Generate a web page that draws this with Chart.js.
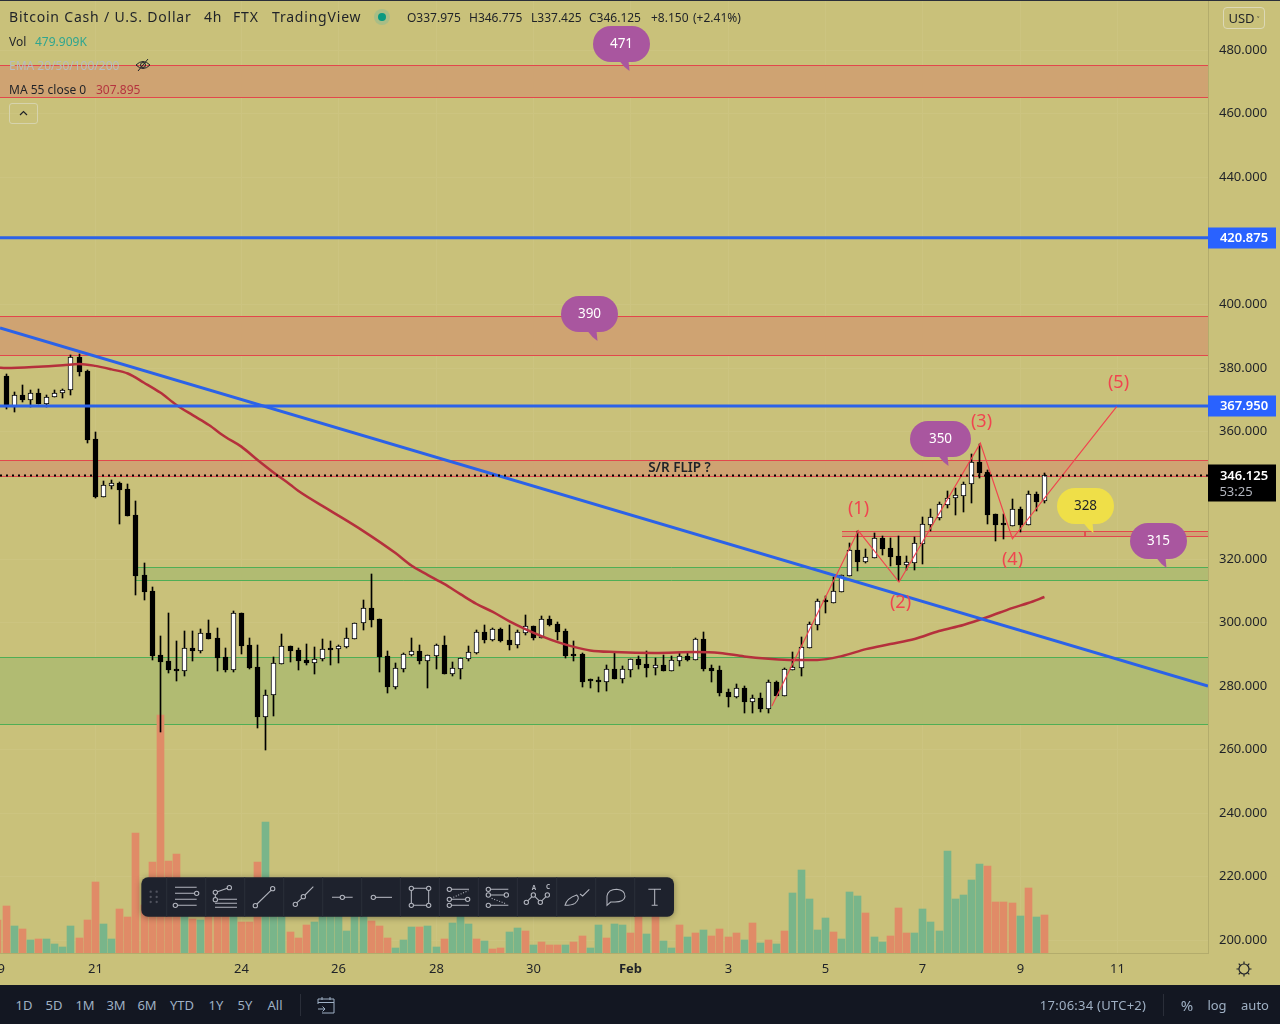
<!DOCTYPE html>
<html>
<head>
<meta charset="utf-8">
<title>BCHUSD 4h</title>
<script src="https://cdn.jsdelivr.net/npm/chart.js@4"></script>
<style>
    html, body { margin: 0; padding: 0; background: #c9c17a; }
    body { width: 1280px; height: 1024px; position: relative; overflow: hidden; font-family: "Noto Sans", sans-serif; }
    canvas { position: absolute; left: 0; top: 0; }
    .t { position: absolute; white-space: nowrap; font-size: 13px; line-height: 16px; color: #1f2228; }
    .h { font-size: 14px; letter-spacing: 0.8px; top: 9px; }
    .b { position: absolute; white-space: nowrap; font-size: 13px; line-height: 16px; color: #9fb0c4; top: 997px; transform: translateX(-50%); }
    #topline { position: absolute; left: 0; top: 0; width: 1280px; height: 1px; background: #2a2e39; }
    #bottombar { position: absolute; left: 0; top: 985px; width: 1280px; height: 39px; background: #131722; }
    #collapse { position: absolute; left: 9px; top: 103px; width: 27px; height: 19px; border: 1px solid #d6d3ad; border-radius: 3px; }
    #usd { position: absolute; left: 1223px; top: 7px; width: 40px; height: 20px; border: 1px solid #dcd8b6; border-radius: 4px; font-size: 13px; line-height: 20px; text-align: center; color: #1f2228; }
    svg { position: absolute; overflow: visible; }
</style>
</head>
<body>
<canvas id="chart" width="1280" height="985"></canvas>
<div id="topline"></div>

<span class="t h" style="left:9px">Bitcoin Cash / U.S. Dollar</span>
<span class="t h" style="left:204px">4h</span>
<span class="t h" style="left:233px">FTX</span>
<span class="t h" style="left:272px">TradingView</span>
<svg style="left:374px;top:9px" width="16" height="16"><circle cx="8" cy="8" r="8" fill="#a9bd86"/><circle cx="8" cy="8" r="4" fill="#089981"/></svg>
<span class="t" style="left:407px;top:10px;font-size:12px">O337.975</span>
<span class="t" style="left:469px;top:10px;font-size:12px">H346.775</span>
<span class="t" style="left:531px;top:10px;font-size:12px">L337.425</span>
<span class="t" style="left:589px;top:10px;font-size:12px">C346.125</span>
<span class="t" style="left:651px;top:10px;font-size:12px">+8.150</span>
<span class="t" style="left:693px;top:10px;font-size:12px">(+2.41%)</span>

<span class="t" style="left:9px;top:34px;font-size:12px">Vol</span>
<span class="t" style="left:35px;top:34px;font-size:12px;color:#2fa58f">479.909K</span>
<span class="t" style="left:9px;top:58px;font-size:12px;color:#b7bcc0">EMA 20/50/100/200</span>
<svg style="left:135px;top:58px" width="16" height="14" fill="none" stroke="#1f2228" stroke-width="1">
    <path d="M1 7 Q8 0 15 7 Q8 14 1 7 Z"/><circle cx="8" cy="7" r="2.5"/><path d="M3 13 L13 1"/>
</svg>
<span class="t" style="left:9px;top:82px;font-size:12px">MA 55 close 0</span>
<span class="t" style="left:96px;top:82px;font-size:12px;color:#b5343f">307.895</span>
<div id="collapse"><svg style="left:9px;top:6px" width="9" height="6" fill="none" stroke="#1f2228" stroke-width="1.2"><path d="M1 5 L4.5 1.5 L8 5"/></svg></div>
<div id="usd">USD<span style="font-size:9px"> ˅</span></div>

<svg style="left:1236px;top:961px" width="16" height="16" fill="none" stroke="#1f2228" stroke-width="1.2">
    <circle cx="8" cy="8" r="5"/><path d="M8 0.5V3M8 13V15.5M0.5 8H3M13 8H15.5M2.7 2.7L4.4 4.4M11.6 11.6L13.3 13.3M2.7 13.3L4.4 11.6M11.6 4.4L13.3 2.7"/>
</svg>

<div id="bottombar"></div>
<span class="b" style="left:24px">1D</span>
<span class="b" style="left:54px">5D</span>
<span class="b" style="left:85px">1M</span>
<span class="b" style="left:116px">3M</span>
<span class="b" style="left:147px">6M</span>
<span class="b" style="left:182px">YTD</span>
<span class="b" style="left:216px">1Y</span>
<span class="b" style="left:245px">5Y</span>
<span class="b" style="left:275px">All</span>
<span class="b" style="left:1093px;letter-spacing:0.25px">17:06:34 (UTC+2)</span>
<span class="b" style="left:1187px;font-size:15px">%</span>
<span class="b" style="left:1217px">log</span>
<span class="b" style="left:1255px">auto</span>
<svg style="left:300px;top:994px" width="1" height="22"><path d="M0.5 0V22" stroke="#2a2e39"/></svg>
<svg style="left:1163px;top:994px" width="1" height="22"><path d="M0.5 0V22" stroke="#2a2e39"/></svg>
<svg style="left:317px;top:996px" width="18" height="18" fill="none" stroke="#9fb0c4" stroke-width="1">
    <path d="M1 8V3H17V17H5M1 6.5H17M5 1V4M13 1V4M1 13H8M5.5 10.5L8 13L5.5 15.5"/>
</svg>

<!-- floating drawing toolbar, coordinates are 3x page pixels from (0,820) -->
<svg style="left:0;top:820px;filter:drop-shadow(0 1px 3px rgba(0,0,0,.35))" width="700" height="110" viewBox="0 0 2100 330" fill="none" stroke="#b2b5be" stroke-width="3.2">
    <rect x="424" y="172" width="1598" height="118" rx="20" fill="#1e222d" stroke="none"/>
    <g stroke="#2a2e39">
        <path d="M500 172V290M617 172V290M734 172V290M851 172V290M968 172V290M1085 172V290M1201 172V290M1318 172V290M1435 172V290M1552 172V290M1670 172V290M1787 172V290M1904 172V290"/>
    </g>
    <g fill="#50535e" stroke="none">
        <circle cx="452" cy="215" r="3.5"/><circle cx="470" cy="215" r="3.5"/><circle cx="452" cy="231" r="3.5"/><circle cx="470" cy="231" r="3.5"/><circle cx="452" cy="246" r="3.5"/><circle cx="470" cy="246" r="3.5"/>
    </g>
    <path d="M525 202H590M525 220H582M525 238H590M533 256H590"/><circle cx="590" cy="220" r="6.5"/><circle cx="526" cy="256" r="6.5"/>
    <path d="M652 215L682 205M646 223V233M655 238H711M645 250H711M645 262H711"/><circle cx="646" cy="217" r="6.5"/><circle cx="688" cy="203" r="6.5"/><circle cx="646" cy="239" r="6.5"/>
    <path d="M771 252L813 211"/><circle cx="766" cy="257" r="6.5"/><circle cx="818" cy="206" r="6.5"/>
    <path d="M891 248L905 235M915 225L940 200"/><circle cx="886" cy="253" r="6.5"/><circle cx="910" cy="230" r="6.5"/>
    <path d="M996 232H1021M1033 232H1058"/><circle cx="1027" cy="232" r="6.5"/>
    <path d="M1126 232H1176"/><circle cx="1120" cy="232" r="6.5"/>
    <g transform="translate(1200,150)">
        <path d="M40 55H80M40 106H80M34 61V100M86 61V100"/><circle cx="34" cy="55" r="6.5"/><circle cx="86" cy="55" r="6.5"/><circle cx="34" cy="106" r="6.5"/><circle cx="86" cy="106" r="6.5"/>
        <path d="M154 58H207M154 88H197M154 106H207"/><path d="M160 82L205 62" stroke-dasharray="3 5"/><circle cx="148" cy="58" r="6.5"/><circle cx="148" cy="88" r="6.5"/><circle cx="203" cy="88" r="6.5"/><circle cx="148" cy="106" r="6.5"/>
        <path d="M271 58H325M271 75H313M271 106H325"/><path d="M275 85L320 102" stroke-dasharray="3 5"/><circle cx="265" cy="58" r="6.5"/><circle cx="265" cy="75" r="6.5"/><circle cx="319" cy="75" r="6.5"/><circle cx="265" cy="106" r="6.5"/>
        <path d="M384 92L396 80M405 80L417 92M426 92L438 80"/><circle cx="379" cy="97" r="6.5"/><circle cx="400" cy="75" r="6.5"/><circle cx="421" cy="97" r="6.5"/><circle cx="442" cy="75" r="6.5"/>
        <text x="402" y="60" font-size="19" font-weight="700" fill="#b2b5be" stroke="none" text-anchor="middle">A</text>
        <text x="444" y="58" font-size="19" font-weight="700" fill="#b2b5be" stroke="none" text-anchor="middle">C</text>
        <path d="M495 106Q500 85 530 75Q542 85 525 100Q515 106 495 106ZM540 72L548 78L568 58"/>
        <path d="M621 106V78Q625 58 650 58Q675 60 675 80Q672 96 645 96H632Z"/>
        <path d="M745 58H783M764 58V106M755 106H773"/>
    </g>
</svg>

<script>
// 4h candles, Jan 19 to Feb 9
const opens = [
    377.4,367.8,371.4,370.0,372.1,368.7,370.7,372.0,372.9,383.3,
    379.0,357.6,339.4,342.9,343.6,341.9,333.7,314.8,309.8,289.6,
    287.7,285.2,284.6,291.8,290.9,296.5,295.0,289.0,284.9,302.8,
    292.8,285.9,270.1,277.0,286.9,292.5,291.2,288.0,287.2,288.3,
    291.8,291.6,292.3,294.8,299.6,304.3,301.0,289.3,279.6,285.4,
    289.7,290.9,287.9,289.4,292.8,283.7,285.3,288.5,290.4,296.9,
    294.5,297.8,294.4,292.9,296.7,298.8,295.1,301.0,299.4,297.2,
    290.0,290.0,281.8,281.5,281.2,285.2,282.1,284.9,288.4,286.8,
    285.6,286.5,284.6,287.8,289.3,288.1,294.7,285.6,284.9,278.0,
    276.5,279.3,274.9,276.1,272.7,281.2,276.8,284.9,285.6,291.9,
    299.1,306.7,306.1,309.6,314.6,322.7,318.9,320.3,326.5,323.3,
    320.8,318.0,318.7,324.6,330.6,332.8,336.9,338.9,339.8,343.3,
    350.4,347.2,334.0,330.9,330.2,335.6,330.6,340.3,337.975
]
const highs = [
    378.2,372.3,374.6,372.9,373.2,371.4,372.9,373.3,384.0,384.3,
    379.3,359.7,344.3,344.7,344.0,343.4,338.1,318.6,311.0,295.6,
    302.8,294.0,297.2,297.2,297.8,300.7,298.1,291.8,303.5,302.8,
    295.0,292.8,278.6,289.0,296.2,292.5,291.8,293.1,292.2,294.7,
    294.0,292.8,298.0,299.6,307.0,315.1,301.0,290.9,287.1,290.2,
    295.0,292.8,289.7,293.1,295.6,287.4,288.6,292.4,297.5,299.1,
    298.1,298.1,299.1,297.5,302.2,298.8,301.9,301.9,300.0,297.8,
    293.9,290.3,282.1,282.7,286.5,290.3,286.2,288.4,289.3,290.9,
    288.7,289.7,289.3,290.3,290.6,295.0,296.9,286.5,286.2,279.0,
    280.5,279.9,277.1,277.7,281.8,281.5,285.6,290.6,295.3,300.0,
    307.3,308.2,314.2,314.8,324.8,328.8,323.0,328.0,327.1,326.5,
    327.1,320.8,326.8,333.1,335.6,337.8,341.3,342.2,344.1,352.9,
    356.0,347.9,334.0,334.0,338.8,336.2,341.3,341.0,346.775
]
const lows = [
    366.9,366.2,369.2,367.7,368.6,367.7,370.7,370.5,371.4,377.4,
    356.3,339.0,339.4,341.9,330.9,333.4,308.5,306.9,288.0,265.4,
    284.0,281.4,283.0,287.7,290.3,294.7,284.6,284.3,284.3,290.0,
    285.2,266.7,259.7,270.4,286.9,287.4,284.9,286.5,283.7,287.9,
    286.5,287.1,291.9,294.8,297.5,298.4,284.3,277.7,278.9,284.3,
    289.3,286.8,279.3,285.2,283.7,283.0,282.1,287.8,290.0,293.4,
    294.0,293.7,291.2,291.9,295.9,294.4,295.0,298.8,294.4,288.7,
    287.8,279.6,279.3,278.0,278.3,282.1,280.9,282.7,285.2,282.7,
    283.4,284.6,284.6,286.2,287.8,288.1,284.6,281.2,276.8,273.3,
    276.1,271.4,271.4,271.7,271.4,276.8,276.8,284.9,283.1,291.9,
    297.5,302.9,306.1,309.6,314.6,316.1,318.6,320.3,321.1,317.7,
    313.0,316.4,316.4,318.3,328.7,332.2,335.9,333.7,334.7,337.5,
    345.4,330.9,325.5,326.2,330.2,328.4,330.6,335.0,337.425
]
const closes = [
    367.8,371.3,369.9,372.0,368.6,370.7,372.0,372.9,383.3,378.7,
    357.3,339.3,343.0,343.6,341.5,333.4,314.5,309.4,289.3,287.4,
    284.9,284.6,291.8,290.9,296.5,294.7,288.7,284.9,302.8,292.5,
    285.5,270.1,277.0,287.1,292.5,290.9,287.7,287.2,288.3,291.4,
    291.3,292.4,294.9,299.6,304.3,300.7,289.0,279.6,285.5,289.9,
    290.8,287.8,289.5,292.7,283.7,285.5,288.6,290.5,296.8,294.4,
    297.7,294.0,292.8,296.8,298.8,295.0,300.9,299.1,296.9,289.3,
    289.3,281.2,281.5,281.2,285.2,282.1,285.1,288.4,286.5,285.6,
    286.5,284.6,288.1,289.3,288.1,294.7,285.2,284.6,277.7,276.5,
    279.3,274.9,276.1,272.7,281.2,276.8,285.2,285.9,292.2,299.4,
    306.7,306.2,309.8,314.8,322.7,318.9,320.4,326.5,323.0,320.5,
    318.0,318.8,324.8,330.8,333.1,337.2,339.1,340.0,343.5,350.4,
    346.9,333.7,330.6,330.5,335.6,330.6,340.3,337.8,346.125
]

// volume in thousands, first bar sits one slot left of the first candle
const volumes = [
    416,596,340,302,164,176,176,113,76,340,
    189,416,895,365,176,554,454,1512,605,1147,
    2999,1159,1247,630,428,416,554,605,554,580,
    391,391,1147,1651,630,655,265,189,353,391,
    605,580,630,277,554,504,403,340,189,63,
    164,328,328,340,76,176,378,466,365,176,
    151,50,63,265,315,277,101,139,101,101,
    101,139,214,63,353,189,365,353,252,466,
    239,466,151,63,353,202,252,290,214,302,
    202,252,164,378,126,164,113,277,756,1046,
    680,290,441,265,176,769,718,504,202,139,
    214,567,252,252,554,391,277,1285,680,731,
    920,1121,1096,643,643,630,466,819,454,480
]
const volumeDirs = 'RRGRGRGGGGRRRGGRRRRRRRRGRGRRRGRRRGGGRRRGGGGGGGRRRGGGRGGRGGGRGRRGGRGRRRGRRGGRGGRRGRGGRGRGRRRRGRGRGRGGGGGRGGGRGGRRRGGGGGGGGGRRRRGRGRG'

// MA 55, read at these candle numbers
const maIdx = [-1,0,4,7,9,11,13,15,17,19,21,23,25,27,29,31,33,35,36,40,44,48,50,52,54,56,58,60,62,64,66,68,70,72,75,80,85,88,91,94,97,100,103,106,109,112,115,118,121,124,126,128]
const maValues = [380.1,379.9,380.3,380.8,381.2,380.6,379.5,378.2,375.3,372.2,368.3,365.1,362.0,358.3,355.2,351.0,347.0,343.3,341.3,335.0,328.7,321.7,317.7,314.8,312.0,308.8,305.7,303.2,300.3,297.8,295.6,293.7,292.2,291.1,290.6,290.3,290.6,290.3,289.2,288.5,288.1,288.1,289.3,291.5,293.1,294.7,297.2,299.1,301.6,304.4,306.0,307.895]

// drawn lines
const trendIdx = [-0.75, 148.16]
const trendPrices = [392.5, 279.9]
const levelPrices = [420.875, 367.95]
const lastPrice = 346.125
const waveIdx = [94.4, 105.05, 110.07, 120.1, 124.05, 136.9]
const wavePrices = [273.6, 328.8, 312.6, 356.3, 326.2, 367.8]
const markIdx = [133, 133]
const markPrices = [328.5, 327.0]

// wave labels
const waveLabels = ['(1)', '(2)', '(3)', '(4)', '(5)']
const waveLabelIdx = [105.1, 110.2, 120.2, 124.1, 137.1]
const waveLabelPrices = [335.6, 306.0, 362.9, 319.5, 375.2]

// price zones
const zoneLows = [465.1, 384.0, 346.1, 327.0, 313.1, 268.1]
const zoneHighs = [475.4, 396.3, 351.1, 328.5, 317.2, 288.9]
const zoneStarts = [-0.75, -0.75, -0.75, 103.05, 15.9, -0.75]
const zoneKinds = ['sell', 'sell', 'sell', 'sell', 'buy', 'buy']

// speech bubbles
const bubbleLabels = ['471', '390', '350', '328', '315']
const bubbleIdx = [75.9, 71.9, 115.2, 133, 142]
const bubblePrices = [481.85, 396.9, 357.7, 336.6, 325.5]
const bubbleKinds = ['purple', 'purple', 'purple', 'yellow', 'purple']

// axis ticks
const yTicks = [480, 460, 440, 400, 380, 360, 320, 300, 280, 260, 240, 220, 200]
const xTickIdx = [-1, 11, 29, 41, 53, 65, 77, 89, 101, 113, 125, 137]
const xTickLabels = ['19', '21', '24', '26', '28', '30', 'Feb', '3', '5', '7', '9', '11']

const FONT = '"Noto Sans", sans-serif'
const xMin = -0.752, xMax = 148.16
const yMin = 195.91, yMax = 495.69

const points = (xs, ys) => xs.map((x, i) => ({ x: x, y: ys[i] }))

// snap to whole pixels so that candles stay crisp
const snap = (scale, fn) => {
    if (scale._snapped) return
    const orig = scale.getPixelForValue.bind(scale)
    scale.getPixelForValue = (v, i) => fn(orig(v, i))
    scale._snapped = true
}

// thin lines go on the unsnapped hidden axes
const lineSet = (label, xs, ys, color, width, order, extra) => Object.assign({
    type: 'line',
    label: label,
    data: points(xs, ys),
    borderColor: color,
    borderWidth: width,
    pointRadius: 0,
    xAxisID: 'xLine',
    yAxisID: 'yLine',
    order: order
}, extra)

const overlay = {
    id: 'overlay',
    beforeDatasetsDraw(chart) {
        const { ctx, scales, chartArea } = chart
        zoneLows.forEach((low, i) => {
            const left = Math.floor(scales.x.getPixelForValue(zoneStarts[i]))
            const top = Math.floor(scales.y.getPixelForValue(zoneHighs[i])) + 0.5
            const bottom = Math.floor(scales.y.getPixelForValue(low)) + 0.5
            const sell = zoneKinds[i] === 'sell'
            ctx.fillStyle = sell ? '#cfa372' : '#b1bb72'
            ctx.fillRect(left, top, chartArea.right - left, bottom - top)
            ctx.strokeStyle = sell ? '#e2474c' : '#4fae55'
            ctx.lineWidth = 1
            ctx.beginPath()
            ctx.moveTo(left, top); ctx.lineTo(chartArea.right, top)
            ctx.moveTo(left, bottom); ctx.lineTo(chartArea.right, bottom)
            ctx.stroke()
        })
    },
    afterDatasetsDraw(chart) {
        const { ctx, scales } = chart
        const px = v => scales.x.getPixelForValue(v)
        const py = v => scales.y.getPixelForValue(v)

        ctx.save()
        ctx.textAlign = 'center'
        ctx.textBaseline = 'middle'

        ctx.fillStyle = '#1f2228'
        ctx.font = '600 13.5px ' + FONT
        ctx.fillText('S/R FLIP ?', px(83), py(348.5))

        ctx.fillStyle = '#f0454f'
        ctx.font = '18px ' + FONT
        waveLabels.forEach((label, i) => ctx.fillText(label, px(waveLabelIdx[i]), py(waveLabelPrices[i])))

        bubbleLabels.forEach((label, i) => {
            const cx = px(bubbleIdx[i]), cy = py(bubblePrices[i])
            const w = label === '350' ? 61 : 57, h = 36
            const purple = bubbleKinds[i] === 'purple'
            ctx.fillStyle = purple ? '#a9569f' : '#efdf48'
            ctx.beginPath()
            ctx.roundRect(cx - w / 2, cy - h / 2, w, h, 18)
            ctx.fill()
            ctx.beginPath()
            ctx.moveTo(cx - 2, cy + h / 2 - 1)
            ctx.lineTo(cx + 3, cy + 23)
            ctx.lineTo(cx + 8, cy + 27)
            ctx.lineTo(cx + 7, cy + h / 2 - 1)
            ctx.closePath()
            ctx.fill()
            ctx.fillStyle = purple ? '#ffffff' : '#1f2228'
            ctx.font = '13.5px ' + FONT
            ctx.fillText(label, cx, cy)
        })

        // price tags on the right axis
        ctx.font = '600 13px ' + FONT
        levelPrices.forEach(price => {
            const y = py(price)
            ctx.fillStyle = '#2962ff'
            ctx.fillRect(1208, y - 10.5, 68, 21)
            ctx.fillStyle = '#ffffff'
            ctx.fillText(price.toFixed(3), 1244, y)
        })
        const y = py(lastPrice)
        ctx.fillStyle = '#000000'
        ctx.fillRect(1208, y - 10.5, 68, 37)
        ctx.fillStyle = '#ffffff'
        ctx.fillText(lastPrice.toFixed(3), 1244, y + 1)
        ctx.fillStyle = '#b2b5be'
        ctx.font = '13px ' + FONT
        ctx.fillText('53:25', 1236, y + 17)
        ctx.restore()
    }
}

new Chart(document.getElementById('chart'), {
    data: {
        datasets: [
            lineSet('Dotted', [xMin, xMax], [lastPrice, lastPrice], '#000000', 2, 1, { borderDash: [2, 4] }),
            lineSet('Waves', waveIdx, wavePrices, '#f0454f', 1.2, 2),
            lineSet('Mark', markIdx, markPrices, '#e2474c', 1, 2),
            lineSet('Level 1', [xMin, xMax], [levelPrices[0], levelPrices[0]], '#2b62e8', 3, 3),
            lineSet('Level 2', [xMin, xMax], [levelPrices[1], levelPrices[1]], '#2b62e8', 3, 3),
            lineSet('Trend', trendIdx, trendPrices, '#2b62e8', 3, 3),
            lineSet('MA 55', maIdx, maValues, '#b5303c', 2.5, 4, { cubicInterpolationMode: 'monotone' }),
            {
                type: 'bar',
                label: 'Candles',
                data: opens.map((open, i) => ({ x: i, y: [open, closes[i]] })),
                backgroundColor: opens.map((open, i) => closes[i] >= open ? '#ffffff' : '#000000'),
                borderColor: '#000000',
                borderWidth: 1,
                borderSkipped: false,
                barThickness: 5,
                minBarLength: 2,
                grouped: false,
                yAxisID: 'y',
                order: 5
            },
            {
                type: 'bar',
                label: 'Wicks',
                data: highs.map((high, i) => ({ x: i, y: [lows[i], high] })),
                backgroundColor: '#000000',
                barThickness: 1,
                grouped: false,
                yAxisID: 'y',
                order: 6
            },
            {
                type: 'bar',
                label: 'Vol',
                data: volumes.map((v, i) => ({ x: i - 1, y: v })),
                backgroundColor: volumes.map((v, i) => volumeDirs[i] === 'G' ? '#79b58a' : '#e08b67'),
                barThickness: 7,
                grouped: false,
                yAxisID: 'vol',
                order: 7
            }
        ]
    },
    options: {
        responsive: false,
        animation: false,
        devicePixelRatio: 1,
        layout: { padding: 0 },
        plugins: { legend: { display: false }, tooltip: { enabled: false } },
        scales: {
            x: {
                type: 'linear',
                offset: false,
                min: xMin,
                max: xMax,
                afterBuildTicks: axis => { axis.ticks = xTickIdx.map(v => ({ value: v })) },
                afterFit: axis => {
                    axis.height = 32
                    axis.paddingLeft = 0
                    axis.paddingRight = 0
                    snap(axis, p => Math.floor(p) + 0.5)
                },
                ticks: {
                    autoSkip: false,
                    maxRotation: 0,
                    padding: 8,
                    color: '#1f2228',
                    font: c => ({ family: FONT, size: 13, weight: c.tick && c.tick.label === 'Feb' ? '700' : '400' }),
                    callback: v => xTickLabels[xTickIdx.indexOf(v)]
                },
                grid: { color: '#ccc480', drawTicks: false, offset: false },
                border: { color: '#b3ac6c' }
            },
            y: {
                type: 'linear',
                position: 'right',
                min: yMin,
                max: yMax,
                afterBuildTicks: axis => { axis.ticks = yTicks.map(v => ({ value: v })) },
                afterFit: axis => {
                    axis.width = 72
                    axis.paddingTop = 0
                    axis.paddingBottom = 0
                    snap(axis, Math.round)
                },
                ticks: {
                    autoSkip: false,
                    padding: 11,
                    color: '#1f2228',
                    font: { family: FONT, size: 13 },
                    callback: v => v.toFixed(3)
                },
                grid: { color: '#ccc480', drawTicks: false },
                border: { color: '#b3ac6c' }
            },
            xLine: { type: 'linear', display: false, offset: false, min: xMin, max: xMax },
            yLine: { type: 'linear', display: false, min: yMin, max: yMax },
            vol: {
                type: 'linear',
                display: false,
                min: 0,
                max: 12008,
                afterFit: axis => snap(axis, Math.round)
            }
        }
    },
    plugins: [overlay]
})
</script>
</body>
</html>
